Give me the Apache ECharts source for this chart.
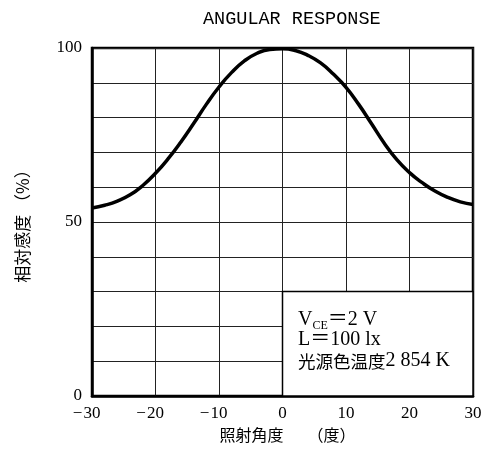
<!DOCTYPE html>
<html><head><meta charset="utf-8">
<script src="https://cdn.jsdelivr.net/npm/echarts@6/dist/echarts.min.js"></script>
<style>html,body{margin:0;padding:0;background:#fff}#c{width:498px;height:455px}</style>
</head><body><div id="c"></div>
<script>
const titleText = 'ANGULAR RESPONSE';
const xName = '照射角度　　（度）';
const yName = '相対感度 （%）';
const angles = [-30,-28,-26,-24,-22,-20,-18,-16,-14,-12,-10,-8,-6,-4,-2,0,2,4,6,8,10,12,14,16,18,20,22,24,26,28,30];
const response = [54,54.8,56,57.8,60.5,64,68.2,73,78.3,83.8,88.8,93,96.3,98.5,99.6,99.8,99.3,97.9,95.7,92.5,88.7,83.8,78.3,72.7,67.9,64.2,61.3,58.9,57.1,55.8,55];
const yTickLabels = [0, 50, 100];
const noteLines = ['V', 'CE', '＝2 V', 'L＝100 lx', '光源色温度2 854 K'];

const serif = '"Liberation Serif","Noto Sans CJK JP",serif';
const cjk = '"Noto Sans CJK JP",sans-serif';
const chart = echarts.init(document.getElementById('c'));
chart.setOption({
  animation: false,
  backgroundColor: '#fff',
  grid: {left: 92, right: 25, top: 48, bottom: 59, show: true, borderColor: '#000', borderWidth: 2.5, backgroundColor: 'transparent'},
  xAxis: {
    type: 'value', min: -30, max: 30, interval: 10,
    axisLine: {show: true, onZero: false, lineStyle: {color: '#000', width: 2.5}},
    axisTick: {show: false},
    splitLine: {show: true, lineStyle: {color: '#222', width: 1}},
    axisLabel: {
      margin: 9, color: '#000',
      formatter: v => v < 0 ? '{m|−}{d|' + Math.abs(v) + '}{p|}' : '{d|' + v + '}',
      rich: {
        m: {fontFamily: serif, fontSize: 17, color: '#000', width: 12, align: 'center'},
        d: {fontFamily: serif, fontSize: 17, color: '#000'},
        p: {width: 12}
      }
    },
    name: xName, nameLocation: 'middle', nameGap: 30,
    nameTextStyle: {fontFamily: cjk, fontSize: 16, color: '#000', padding: [0, 0, 0, 10]}
  },
  yAxis: {
    type: 'value', min: 0, max: 100, interval: 10,
    axisLine: {show: true, onZero: false, lineStyle: {color: '#000', width: 2.5}},
    axisTick: {show: false},
    splitLine: {show: true, lineStyle: {color: '#222', width: 1}},
    axisLabel: {
      margin: 10, color: '#000', fontFamily: serif, fontSize: 17,
      formatter: v => yTickLabels.indexOf(v) >= 0 ? String(v) : ''
    },
    name: yName, nameLocation: 'middle', nameGap: 61, nameRotate: 90,
    nameTextStyle: {fontFamily: cjk, fontSize: 17, color: '#000'}
  },
  series: [{
    type: 'line', smooth: 0.5, symbol: 'none',
    data: angles.map((a, i) => [a, response[i]]),
    lineStyle: {color: '#000', width: 3.5},
    z: 5,
    markArea: {
      silent: true,
      itemStyle: {color: '#fff', borderColor: '#000', borderWidth: 1.5},
      data: [[{coord: [0, 0]}, {coord: [30, 30]}]]
    }
  }],
  graphic: [
    {type: 'text', z: 100, left: 203, top: 10, style: {text: titleText, font: '18.5px "Liberation Mono", monospace', fill: '#000'}},
    {type: 'text', z: 100, left: 298, top: 310, style: {
      text: '{v|' + noteLines[0] + '}{s|' + noteLines[1] + '}{v|' + noteLines[2] + '}',
      rich: {
        v: {fontFamily: serif, fontSize: 20, color: '#000'},
        s: {fontFamily: serif, fontSize: 12, color: '#000', padding: [12, 0, 0, 0]}
      }
    }},
    {type: 'text', z: 100, left: 298, top: 330, style: {text: noteLines[3], font: '20px ' + serif, fill: '#000'}},
    {type: 'text', z: 100, left: 298, top: 351, style: {
      text: '{c|' + noteLines[4].slice(0, 5) + '}{v|' + noteLines[4].slice(5) + '}',
      rich: {
        c: {fontFamily: cjk, fontSize: 17.5, color: '#000'},
        v: {fontFamily: serif, fontSize: 20, color: '#000'}
      }
    }}
  ]
});
</script></body></html>
